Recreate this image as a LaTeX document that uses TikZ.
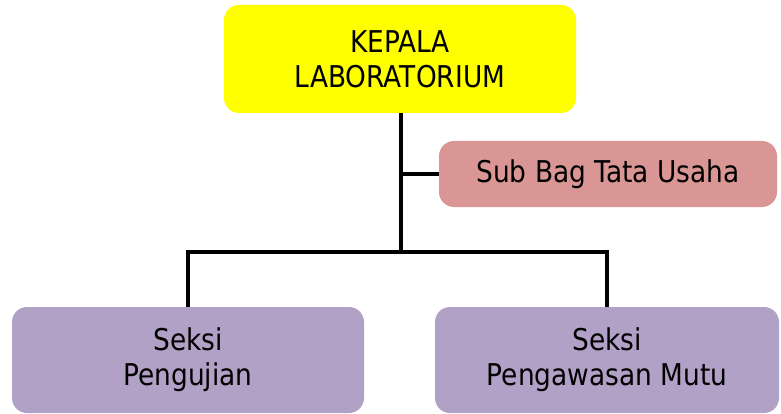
\documentclass[tikz,border=0pt]{standalone}
\usepackage{fontspec}
\setmainfont{DejaVu Sans}[FakeStretch=0.88]
\usepackage{tikz}
\usetikzlibrary{positioning}
\definecolor{headColor}{rgb}{1.0,1.0,0.0}
\definecolor{subColor}{rgb}{0.851,0.588,0.580}
\definecolor{seksiColor}{rgb}{0.698,0.631,0.780}
\tikzset{
  mybox/.style={rounded corners=15pt, inner sep=0pt, align=center,
    font=\fontsize{30}{35}\selectfont},
  myedge/.style={color=black,line width=3.5pt}
}
\begin{document}
\begin{tikzpicture}[x=1pt,y=-1pt]
\useasboundingbox (0,0) rectangle (781,414);
\node[mybox, fill=headColor, minimum width=352pt, minimum height=108pt] (kepala) at (400,59) {KEPALA\\LABORATORIUM};
\node[mybox, fill=subColor, minimum width=338pt, minimum height=66pt] (subbag) at (608,174) {Sub Bag Tata Usaha};
\node[mybox, fill=seksiColor, minimum width=352pt, minimum height=106pt] (pengujian) at (188,360) {Seksi\\Pengujian};
\node[mybox, fill=seksiColor, minimum width=344pt, minimum height=106pt] (pengawasan) at (607,360) {Seksi\\Pengawasan Mutu};
\coordinate (cabang) at (401,252);
\draw[myedge] (kepala.south -| cabang) -- (cabang);
\draw[myedge] (subbag.west) -- (subbag.west -| cabang);
\draw[myedge] (pengujian.north) |- (cabang) -| (pengawasan.north);
\end{tikzpicture}
\end{document}
